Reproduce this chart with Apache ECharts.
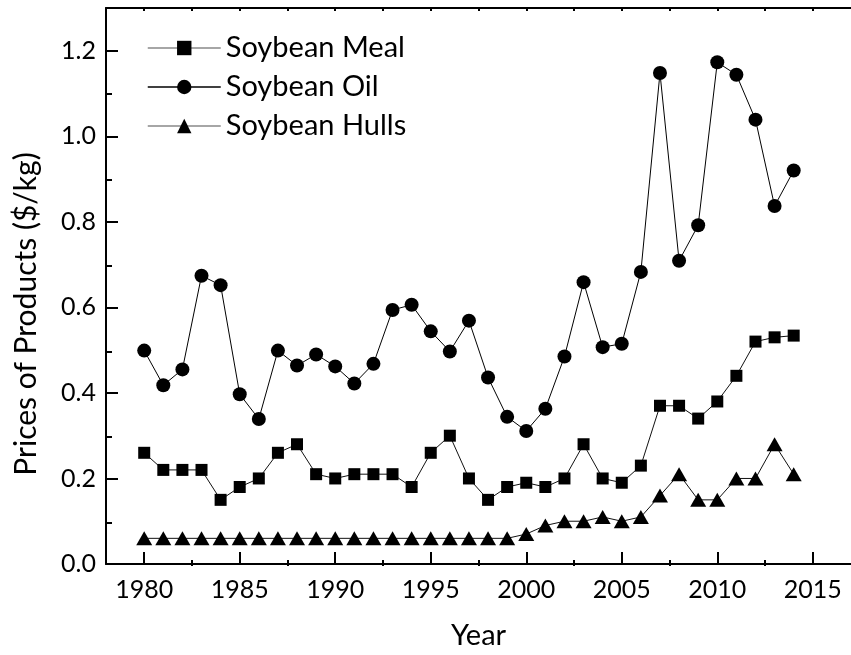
<!DOCTYPE html>
<html>
<head>
<meta charset="utf-8">
<title>Soybean product prices</title>
<script src="https://cdn.jsdelivr.net/npm/echarts@6/dist/echarts.min.js"></script>
<style>
  html, body { margin: 0; padding: 0; background: #fff; }
  #chart { width: 851px; height: 655px; }
</style>
</head>
<body>
<div id="chart"></div>
<script>
// Annual prices of soybean products, $/kg
const years = [1980, 1981, 1982, 1983, 1984, 1985, 1986, 1987, 1988, 1989,
               1990, 1991, 1992, 1993, 1994, 1995, 1996, 1997, 1998, 1999,
               2000, 2001, 2002, 2003, 2004, 2005, 2006, 2007, 2008, 2009,
               2010, 2011, 2012, 2013, 2014];

const mealPrice = [0.26, 0.22, 0.22, 0.22, 0.15, 0.18, 0.20, 0.26, 0.28, 0.21,
                   0.20, 0.21, 0.21, 0.21, 0.18, 0.26, 0.30, 0.20, 0.15, 0.18,
                   0.19, 0.18, 0.20, 0.28, 0.20, 0.19, 0.23, 0.37, 0.37, 0.34,
                   0.38, 0.44, 0.52, 0.53, 0.534];

const oilPrice = [0.499, 0.418, 0.455, 0.674, 0.652, 0.397, 0.339, 0.499, 0.464, 0.490,
                  0.462, 0.422, 0.468, 0.594, 0.606, 0.544, 0.497, 0.569, 0.436, 0.344,
                  0.311, 0.363, 0.485, 0.659, 0.507, 0.515, 0.683, 1.148, 0.709, 0.792,
                  1.173, 1.144, 1.039, 0.837, 0.920];

const hullsPrice = [0.06, 0.06, 0.06, 0.06, 0.06, 0.06, 0.06, 0.06, 0.06, 0.06,
                    0.06, 0.06, 0.06, 0.06, 0.06, 0.06, 0.06, 0.06, 0.06, 0.06,
                    0.07, 0.09, 0.10, 0.10, 0.11, 0.10, 0.11, 0.16, 0.21, 0.15,
                    0.15, 0.20, 0.20, 0.28, 0.21];

// Axis ticks
const yearTicks = [1980, 1985, 1990, 1995, 2000, 2005, 2010, 2015];
const yearMinorTicks = [1982.5, 1987.5, 1992.5, 1997.5, 2002.5, 2007.5, 2012.5];
const yearTopTicks = [1980, 1982.5, 1985, 1987.5, 1990, 1992.5, 1995, 1997.5, 2000,
                      2002.5, 2005, 2007.5, 2010, 2012.5, 2015];
const priceTicks = [0, 0.2, 0.4, 0.6, 0.8, 1.0, 1.2];
const priceMinorTicks = [0.1, 0.3, 0.5, 0.7, 0.9, 1.1];

const FONT = "Lato, 'Liberation Sans', Arial, sans-serif";

function pairs(values) {
  return years.map((y, i) => [y, values[i]]);
}

const gridBox = { left: 106, top: 8, width: 755, height: 558 };
const xRange = { min: 1978, max: 2017 };
const yRange = { min: 0, max: 1.3 };
const axisLineStyle = { color: '#000', width: 2 };

const chart = echarts.init(document.getElementById('chart'), null, { renderer: 'canvas' });

chart.setOption({
  animation: false,
  backgroundColor: '#fff',
  textStyle: { fontFamily: FONT, color: '#000' },
  grid: [
    Object.assign({}, gridBox),
    Object.assign({}, gridBox)
  ],
  xAxis: [
    {
      gridIndex: 0, type: 'value', position: 'bottom',
      min: xRange.min, max: xRange.max,
      axisLine: { show: true, onZero: false, lineStyle: axisLineStyle },
      axisTick: { show: true, inside: true, length: 12, customValues: yearTicks,
                  lineStyle: { color: '#000', width: 2 } },
      axisLabel: { show: true, customValues: yearTicks, margin: 13, fontSize: 25,
                   color: '#000', fontFamily: FONT, formatter: v => String(Math.round(v)) },
      splitLine: { show: false },
      name: 'Year', nameLocation: 'middle', nameGap: 57,
      nameTextStyle: { fontSize: 29, color: '#000', fontFamily: FONT }
    },
    {
      gridIndex: 1, type: 'value', position: 'bottom',
      min: xRange.min, max: xRange.max,
      axisLine: { show: false, onZero: false },
      axisTick: { show: true, inside: true, length: 6, customValues: yearMinorTicks,
                  lineStyle: { color: '#000', width: 2 } },
      axisLabel: { show: false },
      splitLine: { show: false }
    },
    {
      gridIndex: 1, type: 'value', position: 'top',
      min: xRange.min, max: xRange.max,
      axisLine: { show: true, onZero: false, lineStyle: axisLineStyle },
      axisTick: { show: true, inside: true, length: 3, customValues: yearTopTicks,
                  lineStyle: { color: '#000', width: 2 } },
      axisLabel: { show: false },
      splitLine: { show: false }
    }
  ],
  yAxis: [
    {
      gridIndex: 0, type: 'value', position: 'left',
      min: yRange.min, max: yRange.max,
      axisLine: { show: true, onZero: false, lineStyle: axisLineStyle },
      axisTick: { show: true, inside: true, length: 12, customValues: priceTicks,
                  lineStyle: { color: '#000', width: 2 } },
      axisLabel: { show: true, customValues: priceTicks, margin: 10, fontSize: 25,
                   color: '#000', fontFamily: FONT, formatter: v => v.toFixed(1) },
      splitLine: { show: false }
    },
    {
      gridIndex: 1, type: 'value', position: 'left',
      min: yRange.min, max: yRange.max,
      axisLine: { show: false, onZero: false },
      axisTick: { show: true, inside: true, length: 6, customValues: priceMinorTicks,
                  lineStyle: { color: '#000', width: 2 } },
      axisLabel: { show: false },
      splitLine: { show: false }
    }
  ],
  legend: {
    orient: 'vertical',
    left: 142, top: 28,
    itemWidth: 73, itemHeight: 18, itemGap: 9,
    textStyle: { fontSize: 29, lineHeight: 30, color: '#000', fontFamily: FONT },
    data: [
      { name: 'Soybean Meal', lineStyle: { color: '#888', width: 1.5 } },
      { name: 'Soybean Oil', lineStyle: { color: '#000', width: 1.5 } },
      { name: 'Soybean Hulls', lineStyle: { color: '#888', width: 1.5 } }
    ]
  },
  graphic: [
    {
      type: 'text',
      x: 26, y: 314,
      rotation: Math.PI / 2,
      style: {
        text: 'Prices of Products ($/kg)',
        font: '30px ' + FONT,
        fill: '#000',
        align: 'center',
        verticalAlign: 'middle'
      }
    }
  ],
  series: [
    {
      name: 'Soybean Meal', type: 'line', xAxisIndex: 0, yAxisIndex: 0,
      data: pairs(mealPrice),
      symbol: 'rect', symbolSize: 12,
      lineStyle: { color: '#111', width: 1 },
      itemStyle: { color: '#000' }
    },
    {
      name: 'Soybean Oil', type: 'line', xAxisIndex: 0, yAxisIndex: 0,
      data: pairs(oilPrice),
      symbol: 'circle', symbolSize: 14,
      lineStyle: { color: '#000', width: 1 },
      itemStyle: { color: '#000' }
    },
    {
      name: 'Soybean Hulls', type: 'line', xAxisIndex: 0, yAxisIndex: 0,
      data: pairs(hullsPrice),
      symbol: 'triangle', symbolSize: [16, 14],
      lineStyle: { color: '#111', width: 1 },
      itemStyle: { color: '#000' }
    }
  ]
});
</script>
</body>
</html>
